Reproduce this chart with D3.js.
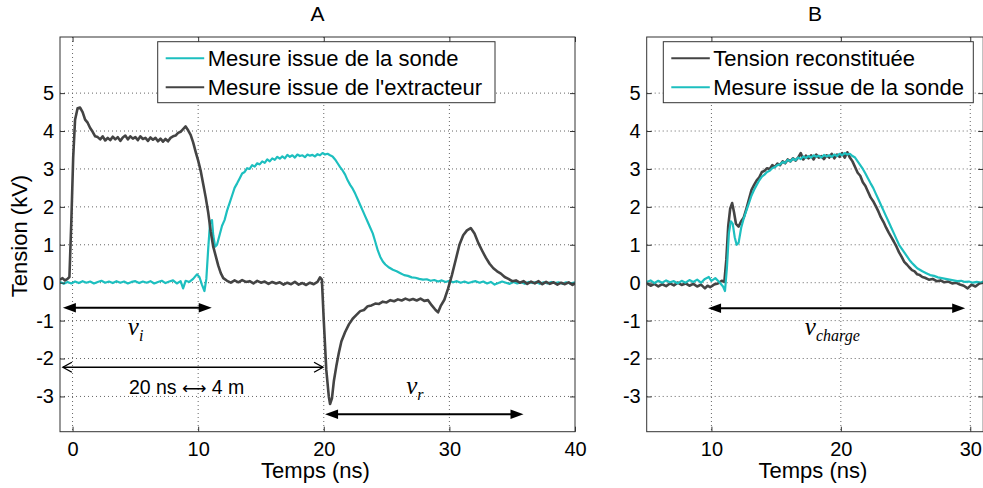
<!DOCTYPE html>
<html><head><meta charset="utf-8">
<script src="https://cdn.jsdelivr.net/npm/d3@7/dist/d3.min.js"></script>
<style>
body{margin:0;background:#fff;}
svg{display:block;font-family:"Liberation Sans",Arial,Helvetica,sans-serif;}
</style></head><body>
<svg id="chart" width="983" height="488"></svg>
<script>
// ---------------- DATA ----------------
const panelTitles = ["A", "B"];
const xLabel = "Temps (ns)";
const yLabel = "Tension (kV)";
const xTicksA = [0, 10, 20, 30, 40];
const xTicksB = [10, 20, 30];
const yTicks = [-3, -2, -1, 0, 1, 2, 3, 4, 5];
const legendA = ["Mesure issue de la sonde", "Mesure issue de l'extracteur"];
const legendB = ["Tension reconstituée", "Mesure issue de la sonde"];

// Panel A – probe measurement (cyan) [t (ns), V (kV)]
const probeA = [[-1,0.02],[-0.7,-0.03],[-0.4,0.02],[-0.1,-0.02],[0.2,0.03],[0.5,-0.01],[0.8,0.04],[1.1,0],[1.4,0.03],[1.7,-0.02],[2,0.02],[2.3,0.05],[2.6,0],[2.9,0.03],[3.2,-0.01],[3.5,0.04],[3.8,0],[4.1,0.03],[4.4,-0.02],[4.7,0.02],[5,0.04],[5.3,-0.01],[5.6,0.03],[5.9,0],[6.2,0.04],[6.5,-0.02],[6.8,0.02],[7.1,0.05],[7.4,-0.01],[7.7,0.03],[8,0.06],[8.3,-0.02],[8.6,0.04],[8.8,-0.15],[9,0.05],[9.3,0.02],[9.6,0.1],[9.9,0.22],[10.1,0.15],[10.3,-0.05],[10.5,-0.22],[10.65,0.1],[10.8,0.9],[10.95,1.6],[11.1,1.65],[11.2,1.25],[11.35,0.95],[11.5,1.0],[11.7,1.25],[11.9,1.5],[12.1,1.65],[12.3,1.9],[12.5,2.1],[12.7,2.3],[12.9,2.5],[13.1,2.62],[13.3,2.75],[13.5,2.88],[13.7,2.92],[13.9,3.02],[14.1,3.0],[14.3,3.1],[14.5,3.06],[14.7,3.15],[14.9,3.12],[15.1,3.2],[15.3,3.16],[15.5,3.25],[15.7,3.2],[15.9,3.28],[16.1,3.24],[16.3,3.32],[16.5,3.27],[16.7,3.33],[16.9,3.28],[17.1,3.37],[17.3,3.32],[17.5,3.36],[17.7,3.3],[17.9,3.38],[18.1,3.34],[18.3,3.36],[18.5,3.31],[18.7,3.38],[18.9,3.35],[19.1,3.37],[19.3,3.33],[19.5,3.39],[19.7,3.36],[19.9,3.42],[20.1,3.38],[20.3,3.4],[20.5,3.36],[20.7,3.33],[20.9,3.25],[21.1,3.15],[21.3,3.05],[21.5,2.96],[21.7,2.85],[21.9,2.7],[22.1,2.58],[22.3,2.48],[22.5,2.35],[22.7,2.2],[22.9,2.05],[23.1,1.9],[23.3,1.75],[23.5,1.6],[23.7,1.45],[23.9,1.3],[24.1,1.08],[24.3,0.85],[24.5,0.68],[24.7,0.56],[24.9,0.48],[25.2,0.4],[25.5,0.34],[25.8,0.3],[26.1,0.25],[26.4,0.2],[26.7,0.18],[27,0.14],[27.3,0.13],[27.6,0.1],[27.9,0.08],[28.2,0.09],[28.5,0.05],[28.8,0.07],[29.1,0.03],[29.4,0.06],[29.7,0.02],[30,0.05],[30.3,0.01],[30.6,0.04],[30.9,0],[31.2,0.03],[31.5,-0.01],[31.8,0.02],[32.1,0.04],[32.4,0],[32.7,0.03],[33,-0.02],[33.3,0.02],[33.6,-0.05],[33.9,-0.01],[34.2,0.03],[34.5,0],[34.8,-0.03],[35.1,0.02],[35.4,-0.02],[35.7,0.01],[36,-0.03],[36.3,0.02],[36.6,-0.01],[36.9,0.02],[37.2,-0.03],[37.5,0.01],[37.8,-0.02],[38.1,0.02],[38.4,-0.01],[38.7,0.01],[39,-0.03],[39.3,0.01],[39.6,-0.02],[40,0.01]];

// Panel A – extractor measurement (dark grey)
const extractorA = [[-1,0.08],[-0.8,0.12],[-0.6,0.06],[-0.4,0.1],[-0.25,0.15],[-0.1,1.6],[0.05,3.3],[0.2,4.3],[0.4,4.6],[0.6,4.62],[0.8,4.5],[1,4.3],[1.2,4.22],[1.4,4.08],[1.6,3.98],[1.8,3.86],[2,3.84],[2.2,3.78],[2.4,3.86],[2.6,3.75],[2.8,3.82],[3,3.76],[3.2,3.85],[3.4,3.78],[3.6,3.84],[3.8,3.74],[4,3.83],[4.2,3.88],[4.4,3.78],[4.6,3.86],[4.8,3.8],[5,3.84],[5.2,3.76],[5.4,3.86],[5.6,3.79],[5.8,3.82],[6,3.74],[6.2,3.83],[6.4,3.77],[6.6,3.82],[6.8,3.73],[7,3.8],[7.2,3.72],[7.4,3.79],[7.6,3.73],[7.8,3.82],[8,3.86],[8.2,3.88],[8.4,3.95],[8.6,3.98],[8.8,4.05],[9,4.12],[9.2,4.02],[9.4,3.9],[9.6,3.7],[9.8,3.45],[10,3.22],[10.2,2.95],[10.4,2.6],[10.6,2.25],[10.8,1.85],[11,1.35],[11.2,0.95],[11.4,0.7],[11.6,0.45],[11.8,0.25],[12,0.12],[12.3,0.05],[12.6,0],[12.9,0.06],[13.2,0.01],[13.5,0.07],[13.8,0.02],[14.1,0.04],[14.4,-0.02],[14.7,0.05],[15,0],[15.3,0.03],[15.6,-0.03],[15.9,0.02],[16.2,-0.02],[16.5,0.01],[16.8,-0.05],[17.1,0],[17.4,-0.04],[17.7,0.02],[18,-0.05],[18.3,-0.01],[18.6,-0.06],[18.9,0],[19.2,-0.04],[19.5,0.02],[19.7,0.14],[19.85,0.08],[20,-1.0],[20.2,-2.3],[20.4,-3.0],[20.5,-3.2],[20.65,-3.05],[20.8,-2.6],[21,-2.2],[21.2,-1.85],[21.4,-1.55],[21.7,-1.3],[22,-1.1],[22.3,-0.95],[22.6,-0.85],[22.9,-0.75],[23.2,-0.72],[23.5,-0.62],[23.8,-0.6],[24.1,-0.55],[24.4,-0.56],[24.7,-0.5],[25,-0.52],[25.3,-0.46],[25.6,-0.49],[25.9,-0.44],[26.2,-0.47],[26.5,-0.42],[26.8,-0.46],[27.1,-0.43],[27.4,-0.47],[27.7,-0.42],[28,-0.48],[28.3,-0.46],[28.6,-0.6],[28.9,-0.72],[29.1,-0.78],[29.3,-0.62],[29.6,-0.45],[29.9,-0.15],[30.2,0.2],[30.5,0.6],[30.8,1.0],[31.1,1.25],[31.4,1.38],[31.7,1.44],[32,1.3],[32.3,1.05],[32.6,0.85],[32.9,0.66],[33.2,0.5],[33.5,0.38],[33.8,0.3],[34.1,0.24],[34.4,0.15],[34.7,0.1],[35,0.04],[35.3,0.06],[35.6,0],[35.9,0.04],[36.2,-0.03],[36.5,0.03],[36.8,-0.02],[37.1,0.04],[37.4,-0.04],[37.7,0.02],[38,-0.03],[38.3,0.01],[38.6,-0.05],[38.9,0],[39.2,-0.04],[39.5,0.01],[39.8,-0.06],[40,-0.02]];

// Panel B – reconstructed voltage (dark grey)
const reconB = [[5,-0.02],[5.3,-0.08],[5.6,-0.03],[5.9,-0.1],[6.2,-0.04],[6.5,-0.09],[6.8,-0.02],[7.1,-0.07],[7.4,0],[7.7,-0.06],[8,-0.02],[8.3,-0.08],[8.6,-0.03],[8.9,-0.1],[9.2,-0.05],[9.5,-0.15],[9.7,-0.08],[9.9,-0.12],[10.2,-0.05],[10.5,-0.02],[10.8,0.05],[11,0.02],[11.15,0.6],[11.3,1.5],[11.45,1.95],[11.6,2.1],[11.75,1.85],[11.9,1.55],[12.1,1.48],[12.3,1.62],[12.5,1.72],[12.7,1.95],[12.9,2.2],[13.1,2.45],[13.3,2.58],[13.5,2.7],[13.7,2.78],[13.9,2.92],[14.1,2.95],[14.3,3.02],[14.5,3.0],[14.7,3.1],[14.9,3.05],[15.1,3.14],[15.3,3.1],[15.5,3.2],[15.7,3.15],[15.9,3.25],[16.1,3.2],[16.3,3.28],[16.5,3.22],[16.7,3.3],[16.9,3.42],[17.1,3.25],[17.3,3.35],[17.5,3.28],[17.7,3.36],[17.9,3.25],[18.1,3.38],[18.3,3.3],[18.5,3.34],[18.7,3.26],[18.9,3.36],[19.1,3.3],[19.3,3.4],[19.5,3.28],[19.7,3.38],[19.9,3.32],[20.1,3.42],[20.3,3.3],[20.5,3.44],[20.7,3.3],[20.9,3.2],[21.1,3.05],[21.3,2.9],[21.5,2.82],[21.7,2.65],[21.9,2.55],[22.1,2.4],[22.3,2.25],[22.5,2.15],[22.7,2.02],[22.9,1.88],[23.1,1.72],[23.3,1.6],[23.5,1.45],[23.7,1.32],[23.9,1.2],[24.1,1.08],[24.3,0.95],[24.5,0.8],[24.7,0.68],[24.9,0.55],[25.1,0.48],[25.3,0.4],[25.5,0.33],[25.7,0.3],[25.9,0.22],[26.1,0.2],[26.3,0.15],[26.5,0.13],[26.8,0.08],[27.1,0.1],[27.4,0.04],[27.7,0.06],[28,0.01],[28.3,0.03],[28.6,-0.02],[28.9,0],[29.2,-0.05],[29.5,-0.08],[29.8,-0.15],[30.1,-0.05],[30.4,-0.1],[30.7,-0.02],[31,0]];

// Panel B – probe measurement (cyan)
const probeB = [[5,0.02],[5.3,0.06],[5.6,-0.01],[5.9,0.05],[6.2,0],[6.5,0.06],[6.8,0.01],[7.1,0.04],[7.4,-0.02],[7.7,0.05],[8,0],[8.3,0.07],[8.6,0.02],[8.9,0.08],[9.2,0],[9.5,0.1],[9.8,0.15],[10,0.05],[10.3,0.12],[10.6,0.02],[10.9,-0.1],[11.05,-0.22],[11.2,0.4],[11.35,1.3],[11.5,1.62],[11.65,1.55],[11.8,1.2],[11.95,1.0],[12.1,1.05],[12.3,1.45],[12.5,1.7],[12.7,1.9],[12.9,2.1],[13.1,2.3],[13.3,2.45],[13.5,2.58],[13.7,2.7],[13.9,2.8],[14.1,2.85],[14.3,2.92],[14.5,2.95],[14.7,3.02],[14.9,3.05],[15.1,3.1],[15.3,3.12],[15.5,3.18],[15.7,3.16],[15.9,3.24],[16.1,3.2],[16.3,3.27],[16.5,3.23],[16.7,3.3],[16.9,3.26],[17.1,3.33],[17.3,3.29],[17.5,3.34],[17.7,3.3],[17.9,3.36],[18.1,3.32],[18.3,3.35],[18.5,3.3],[18.7,3.37],[18.9,3.33],[19.1,3.36],[19.3,3.32],[19.5,3.38],[19.7,3.34],[19.9,3.4],[20.1,3.36],[20.3,3.42],[20.5,3.38],[20.7,3.4],[20.9,3.34],[21.1,3.3],[21.3,3.2],[21.5,3.1],[21.7,3.0],[21.9,2.88],[22.1,2.75],[22.3,2.62],[22.5,2.5],[22.7,2.35],[22.9,2.2],[23.1,2.05],[23.3,1.9],[23.5,1.75],[23.7,1.6],[23.9,1.45],[24.1,1.3],[24.3,1.15],[24.5,1.0],[24.7,0.9],[24.9,0.8],[25.1,0.7],[25.3,0.6],[25.5,0.52],[25.7,0.45],[25.9,0.38],[26.1,0.34],[26.3,0.3],[26.6,0.25],[26.9,0.2],[27.2,0.18],[27.5,0.14],[27.8,0.12],[28.1,0.1],[28.4,0.08],[28.7,0.06],[29,0.04],[29.3,0.05],[29.6,0.02],[29.9,0.03],[30.2,0],[30.5,0.02],[30.8,0],[31,0.03]];

// Annotations (data units): double arrows and labels
const arrowsA = [
  {t0:-0.77, t1:11.08, v:-0.66, kind:"filled"},
  {t0:-0.77, t1:19.94, v:-2.23, kind:"open"},
  {t0:20.1,  t1:35.9,  v:-3.47, kind:"filled"}
];
const arrowsB = [
  {t0:9.74, t1:29.61, v:-0.675, kind:"filled"}
];
const mathLabelsA = [
  {t:4.4,   v:-1.38, main:"v", sub:"i"},
  {t:26.56, v:-2.93, main:"v", sub:"r"}
];
const mathLabelsB = [
  {t:17.22, v:-1.38, main:"v", sub:"charge"}
];
const textLabelsA = [
  {t:9.08, v:-2.93, parts:["20 ns ", "\u27F7", " 4 m"]}
];

// ---------------- DRAWING ----------------
const CYAN = "#1dbfbf";
const DARK = "#444";
const AXIS = "#333";
const svg = d3.select("#chart");
const defs = svg.append("defs");
const yDomain = [-3.93, 6.48];
const yRange = [431.7, 37];

function drawArrow(g, x, y, a) {
  const X0 = x(a.t0), X1 = x(a.t1), Y = y(a.v);
  if (a.kind === "filled") {
    const L = 13, H = 4.8;
    g.append("line").attr("x1", X0 + L - 1).attr("x2", X1 - L + 1).attr("y1", Y).attr("y2", Y)
      .attr("stroke", "#000").attr("stroke-width", 2);
    g.append("path").attr("d", `M${X0},${Y}L${X0+L},${Y-H}L${X0+L},${Y+H}Z`).attr("fill", "#000");
    g.append("path").attr("d", `M${X1},${Y}L${X1-L},${Y-H}L${X1-L},${Y+H}Z`).attr("fill", "#000");
  } else {
    const L = 9, H = 5;
    g.append("line").attr("x1", X0).attr("x2", X1).attr("y1", Y).attr("y2", Y)
      .attr("stroke", "#000").attr("stroke-width", 1.3);
    g.append("path").attr("d", `M${X0+L},${Y-H}L${X0},${Y}L${X0+L},${Y+H}M${X1-L},${Y-H}L${X1},${Y}L${X1-L},${Y+H}`)
      .attr("fill", "none").attr("stroke", "#000").attr("stroke-width", 1.3);
  }
}

function drawPanel(cfg) {
  const g = svg.append("g");
  const x = d3.scaleLinear().domain(cfg.xDomain).range(cfg.xRange);
  const y = d3.scaleLinear().domain(yDomain).range(yRange);
  const [L, R] = cfg.xRange, B = yRange[0], T = yRange[1];

  // grid
  const gx = cfg.xTicks.filter(t => x(t) > L + 1 && x(t) < R - 1);
  g.append("g").selectAll("line").data(gx).join("line")
    .attr("x1", d => x(d)).attr("x2", d => x(d)).attr("y1", T).attr("y2", B)
    .attr("stroke", "#666").attr("stroke-width", 1).attr("stroke-dasharray", "1,3");
  g.append("g").selectAll("line").data(yTicks).join("line")
    .attr("x1", L).attr("x2", R).attr("y1", d => y(d)).attr("y2", d => y(d))
    .attr("stroke", "#666").attr("stroke-width", 1).attr("stroke-dasharray", "1,3");

  // clip
  defs.append("clipPath").attr("id", "clip" + cfg.id)
    .append("rect").attr("x", L).attr("y", T).attr("width", R - L).attr("height", B - T);

  const line = d3.line().x(d => x(d[0])).y(d => y(d[1]));
  cfg.series.forEach(s => {
    g.append("path").datum(s.data).attr("clip-path", `url(#clip${cfg.id})`)
      .attr("d", line).attr("fill", "none").attr("stroke", s.color)
      .attr("stroke-width", s.width).attr("stroke-linejoin", "round");
  });

  // axes (MATLAB-style inward ticks on all sides)
  const fmt = d => String(d);
  const ax = g.append("g").attr("transform", `translate(0,${B})`)
    .call(d3.axisBottom(x).tickValues(cfg.xTicks).tickSize(-5).tickPadding(10).tickFormat(fmt));
  const axT = g.append("g").attr("transform", `translate(0,${T})`)
    .call(d3.axisTop(x).tickValues(cfg.xTicks).tickSize(-5).tickFormat(""));
  const ay = g.append("g").attr("transform", `translate(${L},0)`)
    .call(d3.axisLeft(y).tickValues(yTicks).tickSize(-5).tickPadding(6).tickFormat(fmt));
  const ayR = g.append("g").attr("transform", `translate(${R},0)`)
    .call(d3.axisRight(y).tickValues(yTicks).tickSize(-5).tickFormat(""));
  [ax, axT, ay, ayR].forEach(a => {
    a.select(".domain").remove();
    a.selectAll(".tick line").attr("stroke", AXIS);
    a.selectAll("text").attr("font-size", 20).attr("fill", "#000")
      .attr("font-family", '"Liberation Sans",Arial,sans-serif');
  });
  g.append("rect").attr("x", L).attr("y", T).attr("width", R - L).attr("height", B - T)
    .attr("fill", "none").attr("stroke", AXIS).attr("stroke-width", 1);

  // title & x label
  g.append("text").attr("x", (L + R) / 2).attr("y", 21).attr("text-anchor", "middle")
    .attr("font-size", 21).text(cfg.title);
  g.append("text").attr("x", (L + R) / 2 - 2).attr("y", 478).attr("text-anchor", "middle")
    .attr("font-size", 22).text(xLabel);

  // annotations
  const ag = g.append("g");
  cfg.arrows.forEach(a => drawArrow(ag, x, y, a));
  cfg.mathLabels.forEach(m => {
    const t = ag.append("text").attr("x", x(m.t)).attr("y", y(m.v))
      .attr("font-family", '"Liberation Serif","DejaVu Serif",serif').attr("font-style", "italic")
      .attr("font-size", 25);
    t.append("tspan").text(m.main);
    t.append("tspan").attr("dy", 6).attr("font-size", 16).text(m.sub);
  });
  (cfg.textLabels || []).forEach(tl => {
    const t = ag.append("text").attr("x", x(tl.t)).attr("y", y(tl.v)).attr("text-anchor", "middle")
      .attr("font-size", 19.5);
    t.append("tspan").text(tl.parts[0]);
    t.append("tspan").attr("font-family", '"DejaVu Sans",sans-serif').attr("font-size", 17).text(tl.parts[1]);
    t.append("tspan").text(tl.parts[2]);
  });

  // legend
  const lg = g.append("g");
  const lb = cfg.legendBox;
  lg.append("rect").attr("x", lb.x).attr("y", 41.7).attr("width", lb.w).attr("height", 61)
    .attr("fill", "#fff").attr("stroke", AXIS).attr("stroke-width", 1);
  cfg.legend.forEach((it, i) => {
    const cy = 58.3 + i * 29;
    lg.append("line").attr("x1", lb.x + 8).attr("x2", lb.x + 46.5).attr("y1", cy).attr("y2", cy)
      .attr("stroke", it.color).attr("stroke-width", 2);
    lg.append("text").attr("x", lb.x + 50).attr("y", cy + 7.5).attr("font-size", 22).text(it.label);
  });
  return {x, y};
}

drawPanel({
  id: "A", title: panelTitles[0], xDomain: [-1, 40], xRange: [60, 575], xTicks: xTicksA,
  series: [{data: probeA, color: CYAN, width: 2.2}, {data: extractorA, color: DARK, width: 2.6}],
  arrows: arrowsA, mathLabels: mathLabelsA, textLabels: textLabelsA,
  legendBox: {x: 157.7, w: 337.3},
  legend: [{label: legendA[0], color: CYAN}, {label: legendA[1], color: DARK}]
});
drawPanel({
  id: "B", title: panelTitles[1], xDomain: [5, 31], xRange: [646.7, 983.2], xTicks: xTicksB,
  series: [{data: reconB, color: DARK, width: 2.6}, {data: probeB, color: CYAN, width: 2.2}],
  arrows: arrowsB, mathLabels: mathLabelsB,
  legendBox: {x: 663.3, w: 310},
  legend: [{label: legendB[0], color: DARK}, {label: legendB[1], color: CYAN}]
});

// y label (left panel only)
svg.append("text").attr("transform", "translate(27,236) rotate(-90)").attr("text-anchor", "middle")
  .attr("font-size", 22).text(yLabel);
</script>
</body></html>
